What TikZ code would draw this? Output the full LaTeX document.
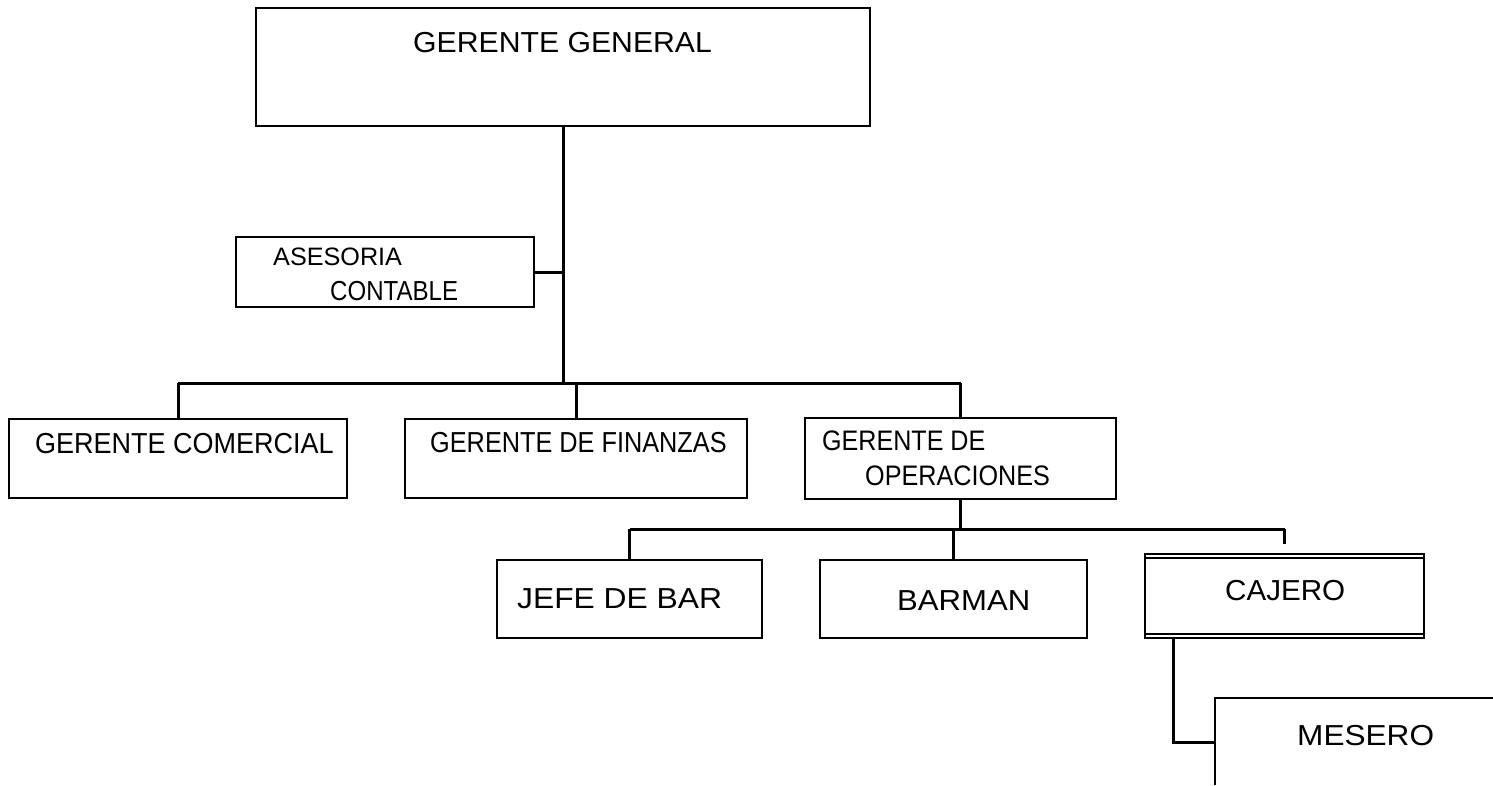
\documentclass[tikz,border=0pt]{standalone}
\usepackage{fontspec}
\setmainfont{Liberation Sans}
\newcommand{\txtfont}[2]{\fontsize{#1}{34}\selectfont\addfontfeature{FakeStretch=#2}}
\begin{document}
\begin{tikzpicture}[x=1pt,y=-1pt,
  box/.style={draw,rectangle,inner sep=0pt,line width=2.8pt},
  lbl/.style={inner sep=0pt,anchor=base west},
  conn/.style={line width=3pt}]
\useasboundingbox (0,0) rectangle (1493,785);
% boxes
\node[box,minimum width=614pt,minimum height=118pt] (gg) at (563,67) {};
\node[box,minimum width=298pt,minimum height=70pt] (ase) at (385,272) {};
\node[box,minimum width=338pt,minimum height=79pt] (gc) at (178,458.5) {};
\node[box,minimum width=342pt,minimum height=79pt] (gf) at (576,458.5) {};
\node[box,minimum width=311pt,minimum height=81pt] (go) at (960.5,458.5) {};
\node[box,minimum width=265pt,minimum height=78pt] (jb) at (629.5,599) {};
\node[box,minimum width=267pt,minimum height=78pt] (bm) at (953.5,599) {};
\node[box,line width=2.2pt,minimum width=279pt,minimum height=84pt] (cj) at (1284.5,596) {};
\draw[line width=2.6pt] ([yshift=-5pt]cj.north west) -- ([yshift=-5pt]cj.north east);
\draw[line width=2.6pt] ([yshift=5pt]cj.south west) -- ([yshift=5pt]cj.south east);
% MESERO open box
\coordinate (mesbl) at (1215,785);
\coordinate (mestl) at (1215,698);
\coordinate (mestr) at (1493,698);
\coordinate (mesl) at (1215,742);
\draw[line width=2.8pt] (mesbl) -- (mestl) -- (mestr);
% texts
\node[lbl,font=\txtfont{28.9}{1.045}] (tgg) at (413,52) {GERENTE GENERAL};
\node[lbl,font=\txtfont{25.2}{1.0}] (tase1) at (273,265) {ASESORIA};
\node[lbl,font=\txtfont{27.5}{0.875}] (tase2) at (330,300) {CONTABLE};
\node[lbl,font=\txtfont{28.9}{0.934}] (tgc) at (35,453) {GERENTE COMERCIAL};
\node[lbl,font=\txtfont{28.9}{0.875}] (tgf) at (430,452) {GERENTE DE FINANZAS};
\node[lbl,font=\txtfont{28.2}{0.89}] (tgo1) at (822,450) {GERENTE DE};
\node[lbl,font=\txtfont{28.2}{0.893}] (tgo2) at (865,485) {OPERACIONES};
\node[lbl,font=\txtfont{28.9}{1.10}] (tjb) at (517,608) {JEFE DE BAR};
\node[lbl,font=\txtfont{28.9}{1.076}] (tbm) at (897,610) {BARMAN};
\node[lbl,font=\txtfont{28.9}{1.024}] (tcj) at (1225,600) {CAJERO};
\node[lbl,font=\txtfont{28.9}{1.093}] (tms) at (1297,745) {MESERO};
% connectors
\coordinate (bar1) at (563,383);
\coordinate (bar1l) at (178,383);
\coordinate (bar1r) at (960.5,383);
\coordinate (bar1m) at (576,383);
\draw[conn] (gg.south) -- (bar1);
\draw[conn] (ase.east) -- (ase.east -| gg.south);
\draw[conn] (bar1l) -- (bar1r);
\draw[conn] (bar1l) -- (gc.north);
\draw[conn] (bar1m) -- (gf.north);
\draw[conn] (bar1r) -- (go.north);
\coordinate (bar2) at (960.5,529);
\coordinate (bar2l) at (629.5,529);
\coordinate (bar2r) at (1284.5,529);
\coordinate (bar2m) at (953.5,529);
\draw[conn] (go.south) -- (bar2);
\draw[conn] (bar2l) -- (bar2r);
\draw[conn] (bar2l) -- (jb.north);
\draw[conn] (bar2m) -- (bm.north);
\draw[conn] (bar2r) -- ([yshift=9pt]cj.north);
\coordinate (cjs) at (1173,638);
\draw[conn] (cjs) -- (cjs |- mesl) -- (mesl);
\end{tikzpicture}
\end{document}
